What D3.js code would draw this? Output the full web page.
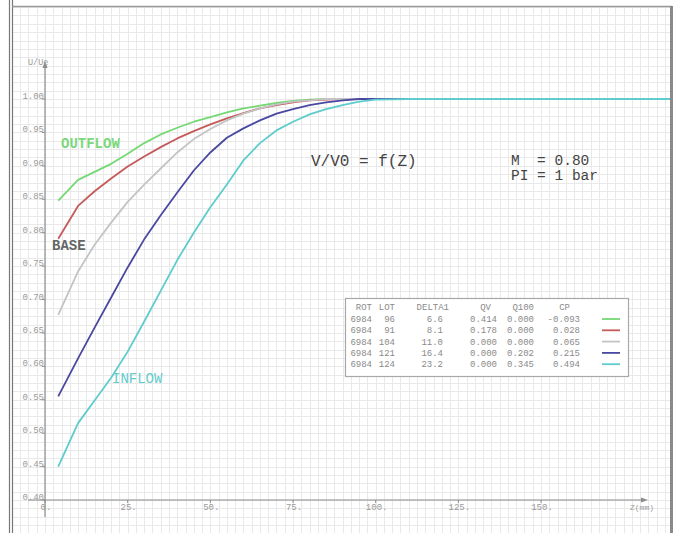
<!DOCTYPE html>
<html><head><meta charset="utf-8">
<script src="https://cdn.jsdelivr.net/npm/d3@7"></script>
<style>
body{margin:0;background:#fff}
svg{display:block}
text{font-family:"Liberation Mono","Courier New",monospace}
</style>
</head><body>
<svg id="chart" width="677" height="533"></svg>
<script>
// Distance from the wall Z (mm) at which each profile was sampled
const zPoints = [4, 10, 15, 20, 25, 30, 35, 40, 45, 50, 55, 60, 65, 70, 75, 80, 85, 90, 95, 100, 110, 191];

// Velocity ratio V/V0 for each run
const outflowRun = [0.848, 0.879, 0.891, 0.903, 0.918, 0.934, 0.947, 0.957, 0.966, 0.973, 0.980, 0.986, 0.990, 0.994, 0.997, 0.999, 1.000, 1.000, 1.000, 1.000, 1.000, 1.000];
const lot91Run   = [0.791, 0.840, 0.862, 0.881, 0.899, 0.914, 0.928, 0.941, 0.952, 0.962, 0.971, 0.979, 0.986, 0.991, 0.995, 0.998, 0.999, 1.000, 1.000, 1.000, 1.000, 1.000];
const baseRun    = [0.677, 0.742, 0.782, 0.815, 0.846, 0.872, 0.896, 0.920, 0.940, 0.955, 0.968, 0.978, 0.986, 0.992, 0.996, 0.998, 1.000, 1.000, 1.000, 1.000, 1.000, 1.000];
const lot121Run  = [0.555, 0.612, 0.658, 0.703, 0.748, 0.790, 0.826, 0.860, 0.893, 0.920, 0.942, 0.956, 0.968, 0.978, 0.985, 0.991, 0.995, 0.998, 1.000, 1.000, 1.000, 1.000];
const inflowRun  = [0.450, 0.515, 0.549, 0.583, 0.622, 0.667, 0.713, 0.759, 0.800, 0.838, 0.872, 0.908, 0.934, 0.953, 0.966, 0.977, 0.985, 0.991, 0.996, 0.999, 1.000, 1.000];

const seriesColors = ["#74d874", "#c45a5a", "#c4c4c4", "#4a48a0", "#5ecccc"];

// Legend table columns
const rotCol    = ["6984", "6984", "6984", "6984", "6984"];
const lotCol    = ["96", "91", "104", "121", "124"];
const delta1Col = ["6.6", "8.1", "11.0", "16.4", "23.2"];
const qvCol     = ["0.414", "0.178", "0.000", "0.000", "0.000"];
const q100Col   = ["0.000", "0.000", "0.000", "0.202", "0.345"];
const cpCol     = ["-0.093", "0.028", "0.065", "0.215", "0.494"];

// Axis ticks
const xTicks = [0, 25, 50, 75, 100, 125, 150];
const yTicks = [0.40, 0.45, 0.50, 0.55, 0.60, 0.65, 0.70, 0.75, 0.80, 0.85, 0.90, 0.95, 1.00];

const svg = d3.select("#chart");
const x = d3.scaleLinear().domain([0, 150]).range([45, 541]);
const y = d3.scaleLinear().domain([0.40, 1.00]).range([500, 99]);

const frame = {left: 13, top: 7, right: 670, bottom: 533};

svg.append("defs").append("clipPath").attr("id", "plotClip")
  .append("rect").attr("x", frame.left).attr("y", frame.top)
  .attr("width", frame.right - frame.left).attr("height", frame.bottom - frame.top);

// Fine graph-paper grid aligned to the axes (2.5 mm by 0.0125)
const gridColor = "#e9e9e9";
const grid = svg.append("g").attr("clip-path", "url(#plotClip)");
const zMin = x.invert(frame.left), zMax = x.invert(frame.right);
for (let k = Math.ceil(zMin / 2.5); k * 2.5 <= zMax; k++) {
  const px = Math.round(x(k * 2.5)) + 0.5;
  grid.append("line").attr("x1", px).attr("x2", px).attr("y1", frame.top).attr("y2", frame.bottom)
    .attr("stroke", gridColor).attr("stroke-width", 1);
}
const vMin = y.invert(frame.bottom), vMax = y.invert(frame.top);
for (let k = Math.ceil((vMin - 0.4) / 0.0125); 0.4 + k * 0.0125 <= vMax; k++) {
  const py = Math.round(y(0.4 + k * 0.0125)) + 0.5;
  grid.append("line").attr("x1", frame.left).attr("x2", frame.right).attr("y1", py).attr("y2", py)
    .attr("stroke", gridColor).attr("stroke-width", 1);
}

// Frame
svg.append("line").attr("x1", 9.5).attr("x2", 9.5).attr("y1", 0).attr("y2", 533).attr("stroke", "#777").attr("stroke-width", 1.2);
svg.append("line").attr("x1", 12.5).attr("x2", 12.5).attr("y1", 0).attr("y2", 533).attr("stroke", "#777").attr("stroke-width", 1.2);
svg.append("line").attr("x1", 12).attr("x2", 672).attr("y1", 6.5).attr("y2", 6.5).attr("stroke", "#999").attr("stroke-width", 1.5);
svg.append("line").attr("x1", 671.5).attr("x2", 671.5).attr("y1", 6).attr("y2", 533).attr("stroke", "#8a8a8a").attr("stroke-width", 3);

// Axes
const axisColor = "#8c8c8c";
svg.append("line").attr("x1", x(0)).attr("x2", x(0)).attr("y1", 64).attr("y2", 517).attr("stroke", axisColor).attr("stroke-width", 1.2);
svg.append("path").attr("d", `M${x(0)},61 L${x(0)-2.5},68 L${x(0)+2.5},68 Z`).attr("fill", axisColor);
svg.append("line").attr("x1", 28).attr("x2", 645).attr("y1", y(0.4)).attr("y2", y(0.4)).attr("stroke", axisColor).attr("stroke-width", 1.2);
svg.append("path").attr("d", `M648,${y(0.4)} L641,${y(0.4)-2.5} L641,${y(0.4)+2.5} Z`).attr("fill", axisColor);

const labelColor = "#9a9a9a";
yTicks.forEach(v => {
  svg.append("line").attr("x1", x(0) - 3).attr("x2", x(0)).attr("y1", y(v)).attr("y2", y(v)).attr("stroke", axisColor);
  svg.append("text").attr("x", x(0) - 1).attr("y", y(v)).attr("text-anchor", "end")
    .attr("font-size", 9).attr("fill", labelColor).text(v.toFixed(2));
});
xTicks.forEach(t => {
  svg.append("line").attr("x1", x(t)).attr("x2", x(t)).attr("y1", y(0.4)).attr("y2", y(0.4) + 3).attr("stroke", axisColor);
  svg.append("text").attr("x", x(t) + 1).attr("y", 510).attr("text-anchor", "middle")
    .attr("font-size", 9).attr("fill", labelColor).text(t + ".");
});
svg.append("text").attr("x", 28).attr("y", 65).attr("font-size", 8.5).attr("fill", labelColor).text("U/Ue");
svg.append("text").attr("x", 654).attr("y", 510).attr("text-anchor", "end").attr("font-size", 8).attr("fill", labelColor).text("Z(mm)");

// Velocity profiles; the inflow run is drawn last so it lies on top along V/V0 = 1
const runs = [outflowRun, lot91Run, baseRun, lot121Run, inflowRun];
const line = d3.line().x((d, i) => x(zPoints[i])).y(d => y(d));
const curves = svg.append("g").attr("clip-path", "url(#plotClip)");
runs.forEach((run, i) => {
  curves.append("path").datum(run).attr("d", line).attr("fill", "none")
    .attr("stroke", seriesColors[i]).attr("stroke-width", 1.8).attr("stroke-linejoin", "round");
});

// Curve annotations
svg.append("text").attr("x", 61).attr("y", 148).attr("font-size", 14).attr("font-weight", "bold")
  .attr("fill", "#7cd87c").text("OUTFLOW");
svg.append("text").attr("x", 52).attr("y", 250).attr("font-size", 14).attr("font-weight", "bold")
  .attr("fill", "#666").text("BASE");
svg.append("text").attr("x", 112).attr("y", 383).attr("font-size", 14)
  .attr("fill", "#62cccc").text("INFLOW");

// Titles
svg.append("text").attr("x", 311).attr("y", 166).attr("font-size", 16).attr("fill", "#444").text("V/V0 = f(Z)");
svg.append("text").attr("x", 511).attr("y", 165).attr("font-size", 14.5).attr("fill", "#444").style("white-space", "pre").text("M  = 0.80");
svg.append("text").attr("x", 511).attr("y", 180).attr("font-size", 14.5).attr("fill", "#444").text("PI = 1 bar");

// Legend table
const lg = svg.append("g");
lg.append("rect").attr("x", 345.5).attr("y", 298.5).attr("width", 283).attr("height", 78)
  .attr("fill", "#fff").attr("stroke", "#a8a8a8").attr("stroke-width", 1.2);
const tColor = "#8a8a8a", fs = 9;
const headers = [["ROT", 372], ["LOT", 395], ["DELTA1", 449], ["QV", 491], ["Q100", 534], ["CP", 570]];
headers.forEach(([h, hx]) => {
  lg.append("text").attr("x", hx).attr("y", 310).attr("text-anchor", "end").attr("font-size", fs).attr("fill", tColor).text(h);
});
const cols = [[rotCol, 372], [lotCol, 395], [delta1Col, 443], [qvCol, 497], [q100Col, 534], [cpCol, 580]];
rotCol.forEach((_, r) => {
  const ry = 322 + r * 11.3;
  cols.forEach(([col, cx]) => {
    lg.append("text").attr("x", cx).attr("y", ry).attr("text-anchor", "end").attr("font-size", fs).attr("fill", tColor).text(col[r]);
  });
  lg.append("line").attr("x1", 602).attr("x2", 620).attr("y1", ry - 3).attr("y2", ry - 3)
    .attr("stroke", seriesColors[r]).attr("stroke-width", 1.8);
});
</script>
</body></html>
